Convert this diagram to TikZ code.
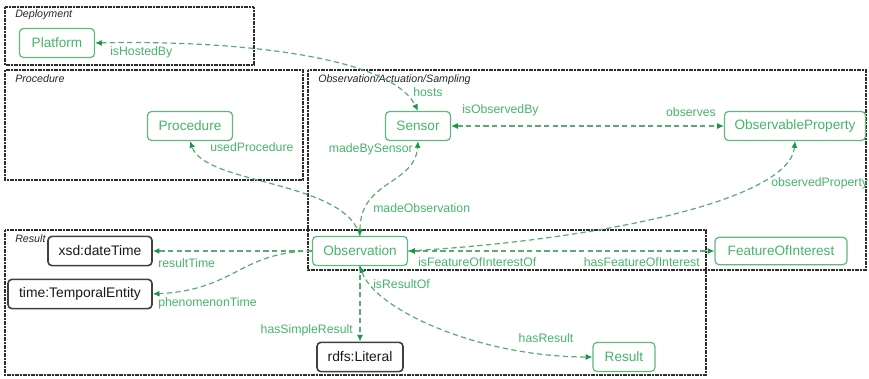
\documentclass[tikz,border=0pt]{standalone}
\usepackage{fontspec}
\setmainfont{Liberation Sans}
\usetikzlibrary{arrows.meta}
\definecolor{tgreen}{RGB}{70,180,105}
\definecolor{lgreen}{RGB}{90,170,120}
\definecolor{agreen}{RGB}{25,150,70}
\definecolor{bgreen}{RGB}{95,185,125}
\definecolor{frameclr}{RGB}{45,45,45}
\begin{document}
\begin{tikzpicture}[x=0.75pt,y=-0.75pt,
  >={Latex[length=5pt,width=4.5pt,color=agreen]},
  gnode/.style={draw=bgreen, fill=white, line width=0.9pt, rounded corners=3pt, text=tgreen, font=\fontsize{10.2}{12}\selectfont, minimum height=21.75pt, inner sep=0pt},
  knode/.style={draw=black!75, fill=white, line width=1.2pt, rounded corners=3pt, text=black!90, font=\fontsize{10.4}{12}\selectfont, minimum height=22pt, inner sep=0pt},
  frame/.style={draw=frameclr, line width=1.4pt, dash pattern=on 1.4pt off 0.6pt},
  ftitle/.style={font=\fontsize{8}{9}\selectfont\itshape, anchor=west, inner sep=0pt, text=black!85},
  lbl/.style={font=\fontsize{9.2}{11}\selectfont, text=tgreen, inner sep=0pt},
  rel/.style={draw=lgreen, line width=0.9pt, dash pattern=on 4pt off 2.5pt}
]
\useasboundingbox (0,0) rectangle (869,379);
% frames
\draw[frame] (5,7) rectangle (254,65);
\draw[frame] (5,70) rectangle (303,180);
\draw[frame] (308,70) rectangle (866,270);
\draw[frame] (5,230) rectangle (706,375);
\node[ftitle] (tdep) at (15,15) {Deployment};
\node[ftitle] (tproc) at (15,79) {Procedure};
\node[ftitle] (toas) at (318,80) {Observation/Actuation/Sampling};
\node[ftitle] (tres) at (15,239) {Result};
% nodes
\node[gnode, minimum width=56.25pt] (pl) at (57,43) {Platform};
\node[gnode, minimum width=63.75pt] (pr) at (190,126) {Procedure};
\node[gnode, minimum width=48.75pt] (se) at (418,126) {Sensor};
\node[gnode, minimum width=105.75pt] (op) at (795,126) {ObservableProperty};
\node[gnode, minimum width=99pt, minimum height=20.5pt] (foi) at (781,251) {FeatureOfInterest};
\node[gnode, minimum width=71.25pt] (ob) at (360,251) {Observation};
\node[knode, minimum width=78pt] (xsd) at (100,251) {xsd:dateTime};
\node[knode, minimum width=108pt] (te) at (80,294) {time:TemporalEntity};
\node[knode, minimum width=64.5pt] (li) at (360,357) {rdfs:Literal};
\node[gnode, minimum width=46.5pt] (re) at (624,357) {Result};
% relations
\draw[rel,<->] (pl.east) .. controls (230,40) and (390,55) .. (se.north);
\draw[rel,<->] (se.east) -- (op.west);
\draw[rel,->] (ob.north) .. controls (345,180) and (205,185) .. (pr.south);
\draw[rel,<->] (ob.north) .. controls (360,180) and (415,185) .. (se.south);
\draw[rel,->] (ob.east) .. controls (600,240) and (790,200) .. (op.south);
\draw[rel,<->] (ob.east) -- (foi.west);
\draw[rel,->] (ob.west) -- (xsd.east);
\draw[rel,->] (ob.west) .. controls (240,252) and (235,290) .. (te.east);
\draw[rel,->] (ob.south) -- (li.north);
\draw[rel,<->] (ob.south) .. controls (375,310) and (480,357) .. (re.west);
% labels
\node[lbl, anchor=west] (l1) at (110,52) {isHostedBy};
\node[lbl, anchor=west] (l2) at (413,92) {hosts};
\node[lbl, anchor=west] (l3) at (462,110) {isObservedBy};
\node[lbl] (l4) at (691,112) {observes};
\node[lbl, anchor=west] (l5) at (210,147) {usedProcedure};
\node[lbl, anchor=east] (l6) at (413,149) {madeBySensor};
\node[lbl, anchor=west] (l7) at (373,208) {madeObservation};
\node[lbl, anchor=west] (l8) at (771,183) {observedProperty};
\node[lbl, anchor=west] (l9) at (418,262) {isFeatureOfInterestOf};
\node[lbl, anchor=east] (l10) at (700,262) {hasFeatureOfInterest};
\node[lbl, anchor=west] (l11) at (158,263) {resultTime};
\node[lbl, anchor=west] (l12) at (158,303) {phenomenonTime};
\node[lbl, anchor=east] (l13) at (353,330) {hasSimpleResult};
\node[lbl, anchor=west] (l14) at (373,284) {isResultOf};
\node[lbl] (l15) at (546,338) {hasResult};
\end{tikzpicture}
\end{document}
